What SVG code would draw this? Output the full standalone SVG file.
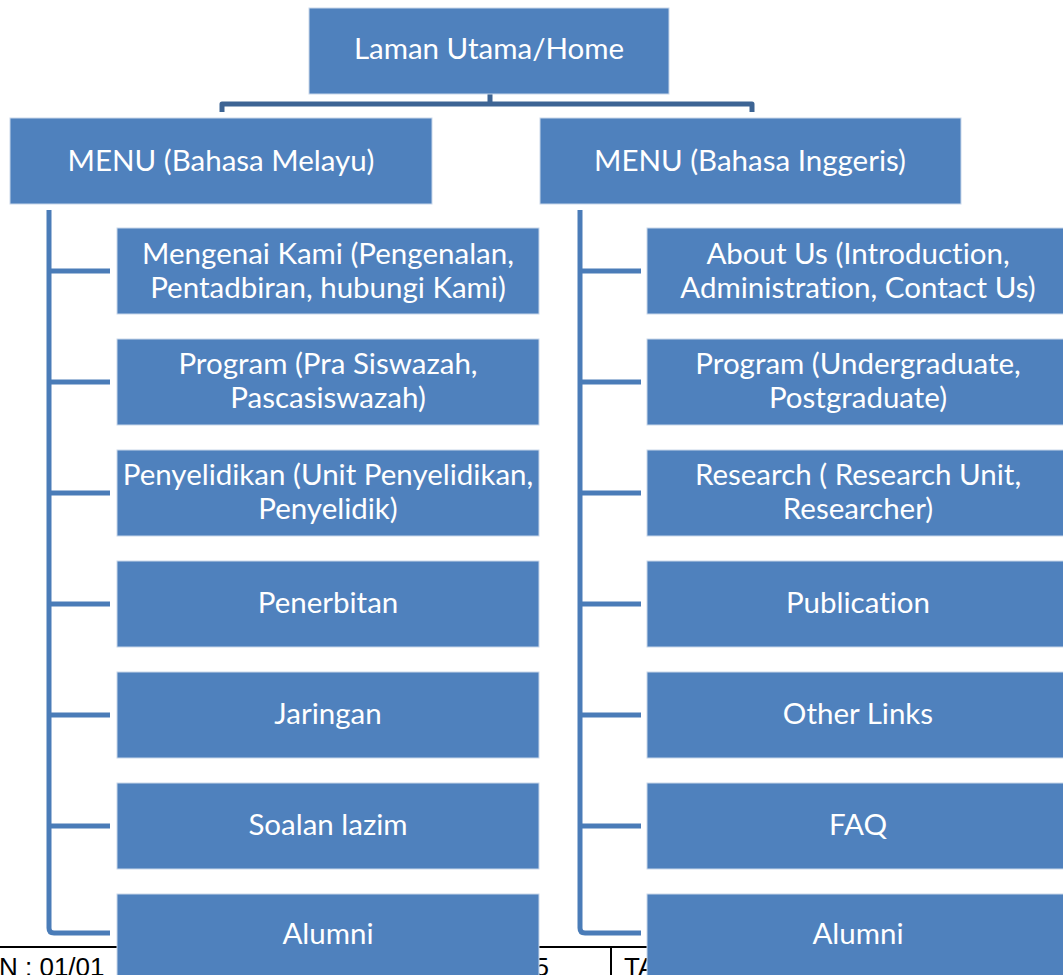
<svg xmlns="http://www.w3.org/2000/svg" width="1063" height="975" viewBox="0 0 1063 975">
<style>
.box{fill:#4f81bd;stroke:#c9d7ea;stroke-width:1}
.t{font-family:Lato,"Open Sans",sans-serif;font-size:29.5px;fill:#ffffff;text-anchor:middle;font-variant-ligatures:none}
.c{fill:none;stroke:#4a7cb8;stroke-width:5}
.br{fill:none;stroke:#3d6494;stroke-width:5;stroke-linejoin:round}
.tb{font-family:"Liberation Sans",Arial,sans-serif;font-size:26px;fill:#000}
</style>
<rect width="1063" height="975" fill="#ffffff"/>
<g id="footer">
<line x1="0" y1="947" x2="1063" y2="947" stroke="#000" stroke-width="2"/>
<line x1="611" y1="947" x2="611" y2="975" stroke="#000" stroke-width="2"/>
<text class="tb" x="-1" y="976">N : 01/01</text>
<text class="tb" x="549" y="976" text-anchor="end">5</text>
<text class="tb" x="624" y="976">TA</text>
</g>
<g id="connectors">
<path class="br" d="M222 112 V104 H752 V112 M490 94 V104"/>
<path class="c" d="M49 210 V928 Q49 933 54 933 H110"/>
<path class="c" d="M49 271 H110 M49 382 H110 M49 493 H110 M49 604 H110 M49 715 H110 M49 826 H110"/>
<path class="c" d="M580 210 V928 Q580 933 585 933 H641"/>
<path class="c" d="M580 271 H641 M580 382 H641 M580 493 H641 M580 604 H641 M580 715 H641 M580 826 H641"/>
</g>
<g id="home"><rect class="box" x="309" y="8" width="360" height="86"/><text class="t" x="489" y="59">Laman Utama/Home</text></g>
<g id="menu-bm"><rect class="box" x="10" y="118" width="422" height="86"/><text class="t" x="221" y="171">MENU (Bahasa Melayu)</text></g>
<g id="menu-bi"><rect class="box" x="540" y="118" width="421" height="86"/><text class="t" x="750" y="171">MENU (Bahasa Inggeris)</text></g>

<g id="bm1"><rect class="box" x="117" y="228" width="422" height="86"/><text class="t" x="328" y="264">Mengenai Kami (Pengenalan,</text><text class="t" x="328" y="298">Pentadbiran, hubungi Kami)</text></g>
<g id="bm2"><rect class="box" x="117" y="339" width="422" height="86"/><text class="t" x="328" y="374">Program (Pra Siswazah,</text><text class="t" x="328" y="408">Pascasiswazah)</text></g>
<g id="bm3"><rect class="box" x="117" y="450" width="422" height="86"/><text class="t" x="328" y="485">Penyelidikan (Unit Penyelidikan,</text><text class="t" x="328" y="519">Penyelidik)</text></g>
<g id="bm4"><rect class="box" x="117" y="561" width="422" height="86"/><text class="t" x="328" y="613">Penerbitan</text></g>
<g id="bm5"><rect class="box" x="117" y="672" width="422" height="86"/><text class="t" x="328" y="724">Jaringan</text></g>
<g id="bm6"><rect class="box" x="117" y="783" width="422" height="86"/><text class="t" x="328" y="835">Soalan lazim</text></g>
<g id="bm7"><rect class="box" x="117" y="894" width="422" height="100"/><text class="t" x="328" y="944">Alumni</text></g>

<g id="bi1"><rect class="box" x="647" y="228" width="422" height="86"/><text class="t" x="858" y="264">About Us (Introduction,</text><text class="t" x="858" y="298">Administration, Contact Us)</text></g>
<g id="bi2"><rect class="box" x="647" y="339" width="422" height="86"/><text class="t" x="858" y="374">Program (Undergraduate,</text><text class="t" x="858" y="408">Postgraduate)</text></g>
<g id="bi3"><rect class="box" x="647" y="450" width="422" height="86"/><text class="t" x="858" y="485">Research ( Research Unit,</text><text class="t" x="858" y="519">Researcher)</text></g>
<g id="bi4"><rect class="box" x="647" y="561" width="422" height="86"/><text class="t" x="858" y="613">Publication</text></g>
<g id="bi5"><rect class="box" x="647" y="672" width="422" height="86"/><text class="t" x="858" y="724">Other Links</text></g>
<g id="bi6"><rect class="box" x="647" y="783" width="422" height="86"/><text class="t" x="858" y="835">FAQ</text></g>
<g id="bi7"><rect class="box" x="647" y="894" width="422" height="100"/><text class="t" x="858" y="944">Alumni</text></g>
</svg>
